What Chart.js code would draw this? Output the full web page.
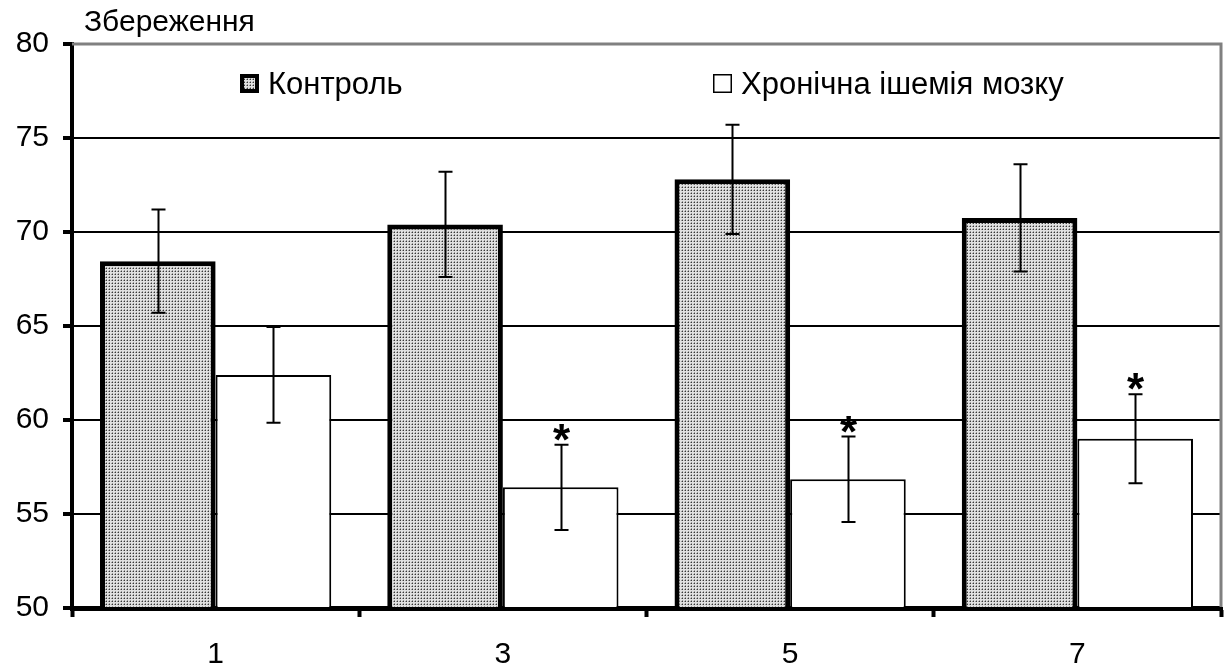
<!DOCTYPE html>
<html>
<head>
<meta charset="utf-8">
<script src="https://cdn.jsdelivr.net/npm/chart.js@4/dist/chart.umd.min.js"></script>
<style>
  html, body { margin: 0; padding: 0; background: #ffffff; }
  #wrap { width: 1224px; height: 668px; }
</style>
</head>
<body>
<div id="wrap"><canvas id="chart" width="1224" height="668"></canvas></div>
<script>
// data
const days = ['1', '3', '5', '7'];
const controlLabel = 'Контроль';
const control = [68.45, 70.4, 72.8, 70.75];
const controlErr = [2.75, 2.8, 2.9, 2.85];
const ischemiaLabel = 'Хронічна ішемія мозку';
const ischemia = [62.4, 56.42, 56.85, 59.0];
const ischemiaErr = [2.55, 2.27, 2.27, 2.37];
const significant = [false, true, true, true];
const yTitle = 'Збереження';

const FONT = '"Liberation Sans", Arial, sans-serif';

// stipple fill for the control bars
function makePattern() {
    const c = document.createElement('canvas');
    c.width = 3;
    c.height = 3;
    const p = c.getContext('2d');
    p.fillStyle = '#e0e0e0';
    p.fillRect(0, 0, 3, 3);
    p.fillStyle = '#383838';
    p.fillRect(1, 1, 1, 1);
    p.fillStyle = '#9a9a9a';
    p.fillRect(0, 1, 1, 1);
    p.fillRect(1, 0, 1, 1);
    return p.createPattern(c, 'repeat');
}
const stipple = makePattern();

const errorBars = {
    id: 'errorBars',
    afterDatasetsDraw(chart) {
        const ctx = chart.ctx;
        const a = chart.chartArea;
        const y = chart.scales.y;
        const errs = [controlErr, ischemiaErr];
        ctx.save();
        // x axis line over the bar bottoms
        ctx.strokeStyle = '#000';
        ctx.lineWidth = 4;
        ctx.beginPath();
        ctx.moveTo(a.left - 2, a.bottom + 1);
        ctx.lineTo(a.right + 2, a.bottom + 1);
        ctx.stroke();

        ctx.lineWidth = 2;
        chart.data.datasets.forEach((ds, di) => {
            chart.getDatasetMeta(di).data.forEach((bar, i) => {
                const v = ds.data[i];
                const top = y.getPixelForValue(v + errs[di][i]);
                const bot = y.getPixelForValue(v - errs[di][i]);
                const x = Math.round(bar.x) + 0.5;
                ctx.beginPath();
                ctx.moveTo(x, top);
                ctx.lineTo(x, bot);
                ctx.moveTo(x - 7, top);
                ctx.lineTo(x + 7, top);
                ctx.moveTo(x - 7, bot);
                ctx.lineTo(x + 7, bot);
                ctx.stroke();
                if (di === 1 && significant[i]) {
                    ctx.fillStyle = '#000';
                    ctx.font = 'bold 44px ' + FONT;
                    ctx.textAlign = 'center';
                    ctx.textBaseline = 'alphabetic';
                    ctx.fillText('*', x, top + 10);
                }
            });
        });
        ctx.restore();
    }
};

const frame = {
    id: 'frame',
    beforeDatasetsDraw(chart) {
        const { ctx, chartArea: a } = chart;
        ctx.save();
        ctx.strokeStyle = '#808080';
        ctx.lineWidth = 3;
        ctx.beginPath();
        ctx.moveTo(a.left, a.top);
        ctx.lineTo(a.right, a.top);
        ctx.lineTo(a.right, a.bottom);
        ctx.stroke();
        ctx.restore();
    },
    afterDraw(chart) {
        const { ctx } = chart;
        ctx.save();
        ctx.fillStyle = '#000';
        ctx.textBaseline = 'alphabetic';
        ctx.textAlign = 'left';
        ctx.font = '30px ' + FONT;
        ctx.fillText(yTitle, 84, 31);

        // legend inside the plot
        ctx.font = '31px ' + FONT;
        const items = [
            { x: 240, label: chart.data.datasets[0].label, fill: stipple, lw: 4 },
            { x: 713, label: chart.data.datasets[1].label, fill: '#ffffff', lw: 1.5 }
        ];
        items.forEach(it => {
            ctx.fillStyle = it.fill;
            ctx.fillRect(it.x, 74, 19, 19);
            ctx.strokeStyle = '#000';
            ctx.lineWidth = it.lw;
            ctx.strokeRect(it.x + it.lw / 2, 74 + it.lw / 2, 19 - it.lw, 19 - it.lw);
            ctx.fillStyle = '#000';
            ctx.fillText(it.label, it.x + 28, 94);
        });
        ctx.restore();
    }
};

new Chart(document.getElementById('chart'), {
    type: 'bar',
    data: {
        labels: days,
        datasets: [
            {
                label: controlLabel,
                data: control,
                backgroundColor: stipple,
                borderColor: '#000',
                borderWidth: 5,
                borderSkipped: 'bottom',
                categoryPercentage: 0.805,
                barPercentage: 1.0
            },
            {
                label: ischemiaLabel,
                data: ischemia,
                backgroundColor: '#ffffff',
                borderColor: '#000',
                borderWidth: 2,
                borderSkipped: 'bottom',
                categoryPercentage: 0.805,
                barPercentage: 1.0
            }
        ]
    },
    options: {
        responsive: false,
        animation: false,
        devicePixelRatio: 1,
        layout: { padding: { top: 44, right: 3, left: 0, bottom: 0 } },
        plugins: {
            legend: { display: false },
            tooltip: { enabled: false }
        },
        scales: {
            x: {
                grid: {
                    display: true,
                    drawOnChartArea: false,
                    drawTicks: true,
                    tickLength: 9,
                    tickWidth: 4,
                    tickColor: '#000',
                    offset: true
                },
                border: { display: true, color: '#000', width: 4 },
                ticks: {
                    color: '#000',
                    font: { size: 30, family: FONT },
                    padding: 20
                },
                afterFit(scale) { scale.height = 60; }
            },
            y: {
                min: 50,
                max: 80,
                ticks: {
                    stepSize: 5,
                    color: '#000',
                    font: { size: 30, family: FONT },
                    padding: 14
                },
                grid: {
                    color: ctx => (ctx.tick && (ctx.tick.value === 50 || ctx.tick.value === 80)) ? 'rgba(0,0,0,0)' : '#000',
                    lineWidth: 2,
                    drawTicks: true,
                    tickLength: 9,
                    tickWidth: 4,
                    tickColor: '#000'
                },
                border: { display: true, color: '#000', width: 4 },
                afterFit(scale) { scale.width = 72; }
            }
        }
    },
    plugins: [frame, errorBars]
});
</script>
</body>
</html>
